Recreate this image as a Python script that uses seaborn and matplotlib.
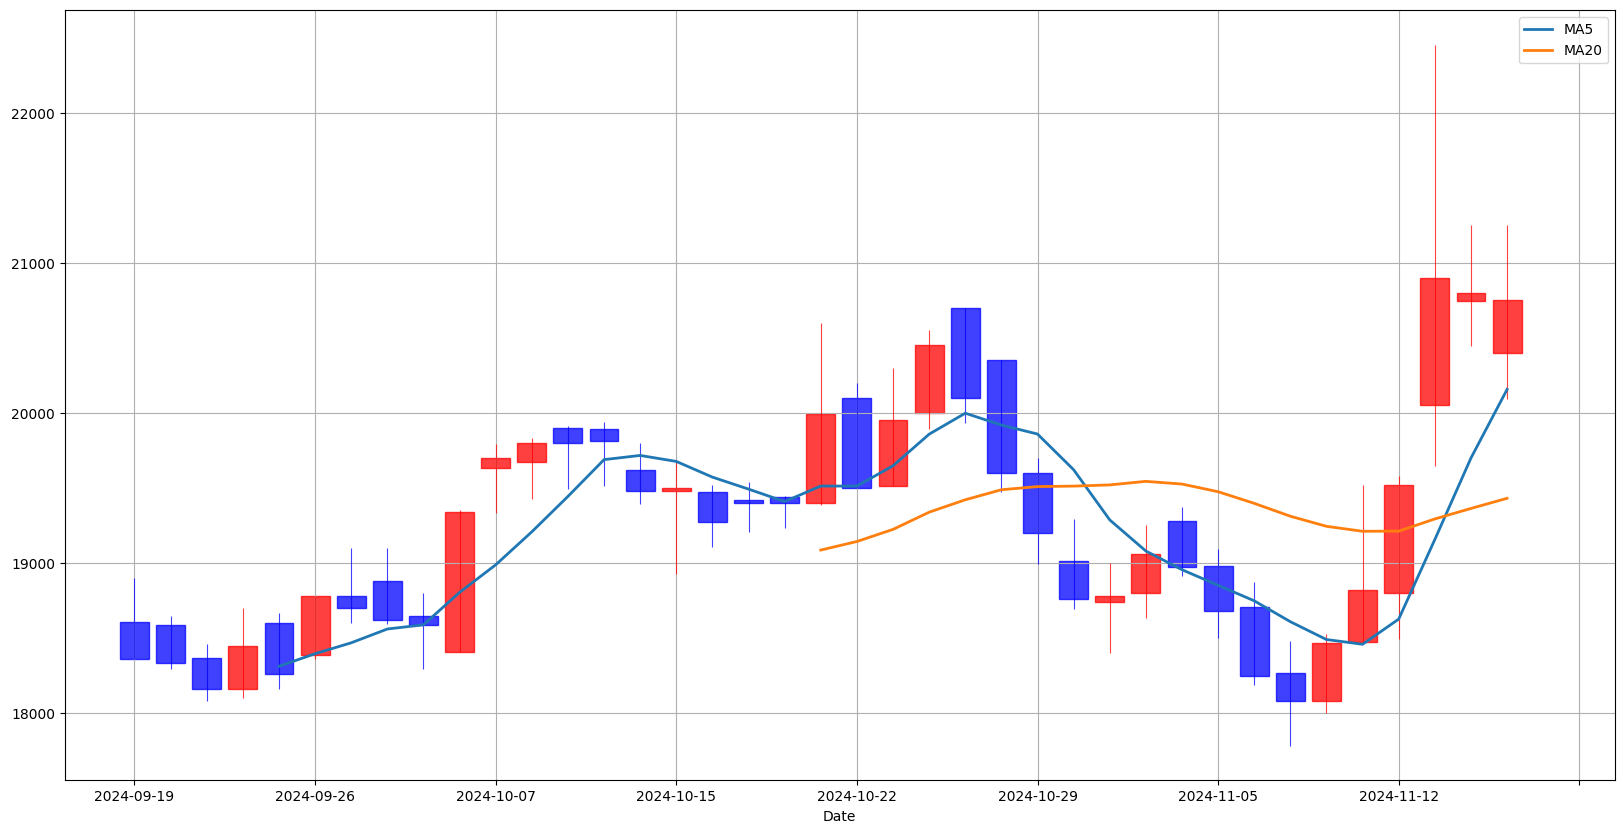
import matplotlib
matplotlib.use("Agg")
import matplotlib.pyplot as plt
import seaborn as sns
import numpy as np
import pandas as pd

dates = ["2024-09-19", "2024-09-20", "2024-09-23", "2024-09-24", "2024-09-25",
         "2024-09-26", "2024-09-27", "2024-09-30", "2024-10-02", "2024-10-04",
         "2024-10-07", "2024-10-08", "2024-10-10", "2024-10-11", "2024-10-14",
         "2024-10-15", "2024-10-16", "2024-10-17", "2024-10-18", "2024-10-21",
         "2024-10-22", "2024-10-23", "2024-10-24", "2024-10-25", "2024-10-28",
         "2024-10-29", "2024-10-30", "2024-10-31", "2024-11-01", "2024-11-04",
         "2024-11-05", "2024-11-06", "2024-11-07", "2024-11-08", "2024-11-11",
         "2024-11-12", "2024-11-13", "2024-11-14", "2024-11-15"]

opens = [18607, 18587, 18367, 18160, 18600, 18387, 18780, 18880, 18647, 18407,
         19633, 19677, 19900, 19893, 19620, 19480, 19473, 19420, 19440, 19400,
         20100, 19513, 20004, 20700, 20353, 19600, 19013, 18740, 18800, 19280,
         18980, 18707, 18267, 18084, 18478, 18800, 20053, 20751, 20400]
highs = [18902, 18650, 18462, 18702, 18669, 18780, 19102, 19102, 18802, 19355,
         19795, 19835, 19915, 19942, 19802, 19690, 19522, 19542, 19445, 20602,
         20202, 20302, 20555, 20700, 20353, 19700, 19295, 19002, 19255, 19375,
         19095, 18875, 18482, 18529, 19522, 19582, 22455, 21255, 21255]
lows = [18360, 18297, 18084, 18104, 18164, 18364, 18604, 18597, 18297, 18407,
        19335, 19431, 19497, 19517, 19397, 18926, 19111, 19211, 19237, 19390,
        19500, 19513, 19897, 19937, 19477, 18993, 18695, 18404, 18635, 18917,
        18504, 18187, 17784, 18004, 18478, 18497, 19651, 20451, 20097]
closes = [18360, 18337, 18160, 18447, 18260, 18780, 18700, 18620, 18587, 19340,
          19700, 19800, 19800, 19813, 19480, 19500, 19277, 19400, 19400, 19995,
          19500, 19953, 20453, 20100, 19600, 19200, 18764, 18780, 19062, 18978,
          18680, 18247, 18084, 18467, 18820, 19520, 20900, 20800, 20753]

df = pd.DataFrame({"Date": dates, "Open": opens, "High": highs,
                   "Low": lows, "Close": closes})
df["idx"] = np.arange(len(df))
df["MA5"] = df["Close"].rolling(5).mean()
df["MA20"] = df["Close"].rolling(20).mean()

fig = plt.figure(figsize=(16.23, 8.33), dpi=100)
ax = fig.add_axes([0.0399, 0.0633, 0.9550, 0.9243])

up = df["Close"] >= df["Open"]
cols = np.where(up, "red", "blue")
body_bottom = np.minimum(df["Open"], df["Close"])
body_height = np.abs(df["Close"] - df["Open"])

ax.vlines(df["idx"], df["Low"], df["High"], colors=cols, linewidth=0.8, alpha=0.75)
ax.bar(df["idx"], body_height, bottom=body_bottom, width=0.8,
       color=cols, edgecolor=cols, alpha=0.75, linewidth=1.0)

sns.lineplot(x=df["idx"], y=df["MA5"], ax=ax, color="tab:blue", linewidth=2, label="MA5")
sns.lineplot(x=df["idx"], y=df["MA20"], ax=ax, color="tab:orange", linewidth=2, label="MA20")

ticks = list(range(0, 41, 5))
labels = [dates[t] if t < len(dates) else "" for t in ticks]
ax.set_xticks(ticks)
ax.set_xticklabels(labels)
ax.set_xlim(-1.93, 40.98)
ax.set_ylim(17553, 22686)
ax.set_xlabel("Date")
ax.set_ylabel("")
ax.grid(True)
ax.legend(loc="upper right")

fig.savefig("out.png", dpi=100)
